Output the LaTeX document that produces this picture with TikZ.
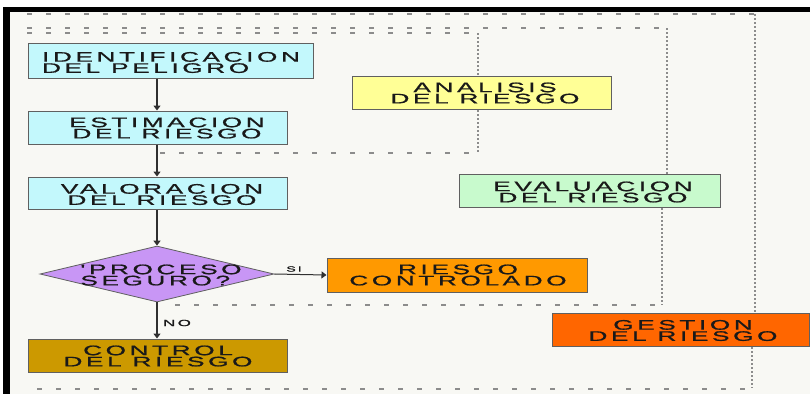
\documentclass[tikz,border=0pt]{standalone}
\usepackage{fontspec}
\usetikzlibrary{shapes.geometric,arrows.meta}
\newfontfamily\bxf[FakeStretch=1.9,LetterSpace=26,FakeBold=1]{Liberation Sans}
\definecolor{bgc}{RGB}{248,248,244}
\definecolor{cyanb}{RGB}{195,248,252}
\definecolor{yelb}{RGB}{255,255,150}
\definecolor{grnb}{RGB}{200,250,205}
\definecolor{purb}{RGB}{200,150,245}
\definecolor{orab}{RGB}{255,153,0}
\definecolor{goldb}{RGB}{204,153,0}
\definecolor{redb}{RGB}{255,102,0}
\definecolor{edge}{RGB}{96,96,96}
\definecolor{txt}{RGB}{25,25,25}
\definecolor{frame}{RGB}{140,140,140}
\tikzset{
  box/.style={draw=edge,line width=1pt,rectangle,inner sep=0pt},
  lbl/.style={text=txt,font=\bxf\fontsize{13.8}{11.2}\selectfont,align=center,inner sep=0pt},
  small/.style={text=txt,font=\bxf\fontsize{7.5}{8}\selectfont,inner sep=0pt},
  arr/.style={draw=txt!90,line width=1.4pt,-{Triangle[width=7pt,length=5pt]}},
  hdash/.style={draw=frame,line width=1.2pt,dash pattern=on 5pt off 14pt},
  vdot/.style={draw=frame,line width=1.3pt,dash pattern=on 1.5pt off 2.5pt}
}
\begin{document}
\begin{tikzpicture}[x=1pt,y=-1pt]
\useasboundingbox (0,0) rectangle (810,394);
\fill[white] (0,0) rectangle (810,394);
\fill[bgc] (10,12) rectangle (810,394);
\fill[black] (4,7) rectangle (810,12);
\fill[black] (3,7) rectangle (10,394);
% frames
\draw[hdash] (27,14) -- (755,14);
\draw[vdot] (755,14) -- (755,313);
\draw[vdot] (752,347) -- (752,388);
\draw[hdash] (37,389) -- (752,389);
\draw[hdash] (27,28) -- (667,28);
\draw[vdot] (667,28) -- (667,174);
\draw[vdot] (662,208) -- (662,305);
\draw[hdash] (175,305) -- (662,305);
\draw[hdash] (27,33) -- (478,33);
\draw[vdot] (478,33) -- (478,76);
\draw[vdot] (478,110) -- (478,153);
\draw[hdash] (160,153) -- (478,153);
% boxes
\node[box,fill=cyanb,minimum width=285pt,minimum height=35pt] (ident) at (170.5,60.5) {};
\node[box,fill=cyanb,minimum width=259pt,minimum height=33pt] (estim) at (157.5,127.5) {};
\node[box,fill=cyanb,minimum width=259pt,minimum height=32pt] (valor) at (157.5,193) {};
\node[box,fill=goldb,minimum width=259pt,minimum height=33pt] (control) at (157.5,355.5) {};
\node[box,fill=yelb,minimum width=259pt,minimum height=33pt] (anal) at (481.5,92.5) {};
\node[box,fill=grnb,minimum width=261pt,minimum height=33pt] (eval) at (589.5,190.5) {};
\node[box,fill=orab,minimum width=260pt,minimum height=34pt] (rc) at (457,275) {};
\node[box,fill=redb,minimum width=257pt,minimum height=33pt] (gest) at (680.5,329.5) {};
\node[draw=edge,line width=0.8pt,fill=purb,diamond,minimum width=234pt,minimum height=56pt,inner sep=0pt] (dec) at (157,274) {};
% texts
\node[lbl,align=left] (identt) at (171,62.5) {IDENTIFICACION\\DEL PELIGRO};
\node[lbl] (estimt) at (167,128) {ESTIMACION\\DEL RIESGO};
\node[lbl] (valort) at (162,194.5) {VALORACION\\DEL RIESGO};
\node[lbl] (controlt) at (158,356) {CONTROL\\DEL RIESGO};
\node[lbl] (analt) at (485,93) {ANALISIS\\DEL RIESGO};
\node[lbl] (evalt) at (593,192) {EVALUACION\\DEL RIESGO};
\node[lbl] (rct) at (458,275) {RIESGO\\CONTROLADO};
\node[lbl] (gestt) at (683,330.5) {GESTION\\DEL RIESGO};
\node[lbl,align=left] (dect) at (161,275) {'PROCESO\\SEGURO?};
% arrows
\draw[arr] (ident.south -| dec.north) -- (estim.north -| dec.north);
\draw[arr] (estim.south -| dec.north) -- (valor.north -| dec.north);
\draw[arr] (valor.south -| dec.north) -- (dec.north);
\draw[arr] (dec.south) -- (control.north -| dec.south);
\draw[arr,line width=1pt] (dec.east) -- (rc.west);
\node[small] (si) at (294,269) {SI};
\node[small,font=\bxf\fontsize{9}{10}\selectfont] (no) at (177,323) {NO};
\end{tikzpicture}
\end{document}
